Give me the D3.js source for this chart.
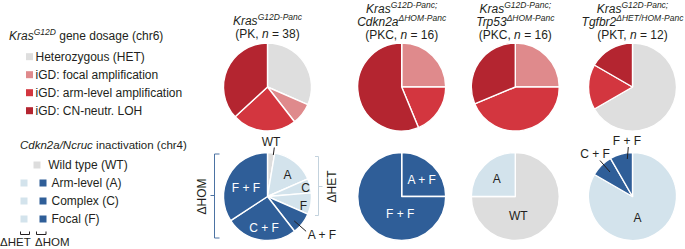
<!DOCTYPE html>
<html><head><meta charset="utf-8">
<script src="https://cdn.jsdelivr.net/npm/d3@7"></script>
<style>
html,body{margin:0;padding:0;background:#fff;}
svg{display:block;font-family:"Liberation Sans",Arial,Helvetica,sans-serif;}
</style></head>
<body><svg id="chart" width="685" height="249"></svg>
<script>
// ---------- DATA ----------
const cohorts = ["PK", "PKC_Cdkn2a", "PKC_Trp53", "PKT"];
const cohortN = [38, 16, 16, 12];
const cohortTitles = [
  [["Kras", "G12D-Panc"]],
  [["Kras", "G12D-Panc;"], ["Cdkn2a", "ΔHOM-Panc"]],
  [["Kras", "G12D-Panc;"], ["Trp53", "ΔHOM-Panc"]],
  [["Kras", "G12D-Panc;"], ["Tgfbr2", "ΔHET/HOM-Panc"]]
];
const cohortAbbr = ["PK", "PKC", "PKC", "PKT"];

const krasKeys = ["HET", "focal", "arm", "LOH"];
const krasLabels = ["Heterozygous (HET)", "iGD: focal amplification", "iGD: arm-level amplification", "iGD: CN-neutr. LOH"];
const krasPK        = [12, 3, 9, 14];
const krasPKCcdkn2a = [0, 4, 3, 9];
const krasPKCtrp53  = [0, 4, 7, 5];
const krasPKT       = [8, 0, 2, 2];

const cdknKeys = ["WT", "A", "C", "F", "A + F", "C + F", "F + F"];
const cdknGroup = ["WT", "HET", "HET", "HET", "HOM", "HOM", "HOM"];
const cdknPK        = [1, 6, 2, 3, 3, 10, 13];
const cdknPKCcdkn2a = [0, 0, 0, 0, 4, 0, 12];
const cdknPKCtrp53  = [12, 4, 0, 0, 0, 0, 0];
const cdknPKT       = [0, 10, 0, 0, 0, 1, 1];

const cdknLegendLabels = ["Arm-level (A)", "Complex (C)", "Focal (F)"];

// ---------- STYLE ----------
const krasColors = {HET: "#dedede", focal: "#df8a8c", arm: "#d3363f", LOH: "#b42530"};
const cdknColors = {WT: "#dddddd", HET: "#d3e3ec", HOM: "#2f5e98"};
const textColor = "#231f20";
const font = 12;

const svg = d3.select("#chart");
const R = 44;
const centerX = {PK: 267.5, PKC_Cdkn2a: 401.7, PKC_Trp53: 515.3, PKT: 632.5};
const topY = 87, botY = 196.5;

const pie = d3.pie().sort(null).value(d => d.v);
const arc = d3.arc().innerRadius(0).outerRadius(R);

const krasSets = [krasPK, krasPKCcdkn2a, krasPKCtrp53, krasPKT];
const cdknSets = [cdknPK, cdknPKCcdkn2a, cdknPKCtrp53, cdknPKT];

cohorts.forEach((c, i) => {
  const cx = centerX[c];
  const kd = krasKeys.map((k, j) => ({k, v: krasSets[i][j]}));
  const gt = svg.append("g").attr("transform", `translate(${cx},${topY})`);
  gt.selectAll("path").data(pie(kd).filter(d => d.data.v > 0)).join("path")
    .attr("d", arc).attr("fill", d => krasColors[d.data.k])
    .attr("stroke", "#fff").attr("stroke-width", 1.4).attr("stroke-linejoin", "round");
  const cd = cdknKeys.map((k, j) => ({k, g: cdknGroup[j], v: cdknSets[i][j]}));
  const gb = svg.append("g").attr("transform", `translate(${cx},${botY})`);
  gb.selectAll("path").data(pie(cd).filter(d => d.data.v > 0)).join("path")
    .attr("d", arc).attr("fill", d => cdknColors[d.data.g])
    .attr("stroke", "#fff").attr("stroke-width", 1.4).attr("stroke-linejoin", "round");

  const lines = cohortTitles[i];
  const nLines = lines.length + 1;
  const baseStart = nLines === 2 ? 25 : 12.5;
  lines.forEach((ln, li) => {
    const t = svg.append("text").attr("x", cx).attr("y", baseStart + li * 13)
      .attr("text-anchor", "middle").attr("font-size", font).attr("fill", textColor);
    t.append("tspan").attr("font-style", "italic").text(ln[0]);
    t.append("tspan").attr("font-style", "italic").attr("font-size", 8.5).attr("dy", -5).text(ln[1]);
  });
  const t2 = svg.append("text").attr("x", cx).attr("y", baseStart + lines.length * 13)
    .attr("text-anchor", "middle").attr("font-size", font).attr("fill", textColor);
  t2.append("tspan").text(`(${cohortAbbr[i]}, `);
  t2.append("tspan").attr("font-style", "italic").text("n");
  t2.append("tspan").text(` = ${cohortN[i]})`);
});

// ---------- bottom pie labels (annotation offsets relative to pie centre) ----------
const botLabels = [
  {c: "PK", t: "WT", dx: 3.5, dy: -51, col: textColor},
  {c: "PK", t: "A", dx: 20, dy: -18, col: textColor},
  {c: "PK", t: "C", dx: 38, dy: -5, col: textColor},
  {c: "PK", t: "F", dx: 36, dy: 13, col: textColor},
  {c: "PK", t: "F + F", dx: -21.5, dy: -4.5, col: "#fff"},
  {c: "PK", t: "C + F", dx: -3.5, dy: 35.5, col: "#fff"},
  {c: "PK", t: "A + F", dx: 54.5, dy: 42.5, col: textColor},
  {c: "PKC_Cdkn2a", t: "A + F", dx: 20, dy: -13, col: "#fff"},
  {c: "PKC_Cdkn2a", t: "F + F", dx: -1.5, dy: 21.5, col: "#fff"},
  {c: "PKC_Trp53", t: "A", dx: -18.5, dy: -14, col: textColor},
  {c: "PKC_Trp53", t: "WT", dx: 3, dy: 23, col: textColor},
  {c: "PKT", t: "A", dx: 5, dy: 25, col: textColor},
  {c: "PKT", t: "C + F", dx: -37.5, dy: -38.5, col: textColor},
  {c: "PKT", t: "F + F", dx: -5.5, dy: -52, col: textColor}
];
botLabels.forEach(l => {
  svg.append("text").attr("x", centerX[l.c] + l.dx).attr("y", botY + l.dy)
    .attr("text-anchor", "middle").attr("font-size", font).attr("fill", l.col).text(l.t);
});
const leaders = [
  {c: "PK", x1: 6.8, y1: -49, x2: 5.8, y2: -41.5},
  {c: "PK", x1: 26.7, y1: 24.4, x2: 38.6, y2: 34.8},
  {c: "PKT", x1: -32.5, y1: -36, x2: -22.5, y2: -24.5},
  {c: "PKT", x1: -4.2, y1: -49.5, x2: -5.2, y2: -37.5}
];
leaders.forEach(l => {
  svg.append("line").attr("x1", centerX[l.c] + l.x1).attr("y1", botY + l.y1)
    .attr("x2", centerX[l.c] + l.x2).attr("y2", botY + l.y2)
    .attr("stroke", textColor).attr("stroke-width", 1);
});

// brackets around PK bottom pie
const bx = centerX.PK;
svg.append("path")
  .attr("d", `M${bx - 48},${botY - 42.5} H${bx - 53} V${botY + 41.5} H${bx - 48} M${bx - 53},${botY - 1} H${bx - 57}`)
  .attr("fill", "none").attr("stroke", "#4c73a3").attr("stroke-width", 1);
svg.append("text").attr("transform", `translate(${bx - 62},${botY}) rotate(-90)`)
  .attr("text-anchor", "middle").attr("font-size", font).attr("fill", textColor).text("ΔHOM");
svg.append("path")
  .attr("d", `M${bx + 47.5},${botY - 40} H${bx + 51} V${botY + 19} H${bx + 47.5} M${bx + 51},${botY - 10} H${bx + 55}`)
  .attr("fill", "none").attr("stroke", "#c3d2dd").attr("stroke-width", 1);
svg.append("text").attr("transform", `translate(${bx + 68.5},${botY - 10}) rotate(-90)`)
  .attr("text-anchor", "middle").attr("font-size", font).attr("fill", textColor).text("ΔHET");

// ---------- LEGEND 1 ----------
const lg1 = svg.append("g");
const l1t = lg1.append("text").attr("x", 9).attr("y", 39.5).attr("font-size", font).attr("fill", textColor);
l1t.append("tspan").attr("font-style", "italic").text("Kras");
l1t.append("tspan").attr("font-style", "italic").attr("font-size", 8.5).attr("dy", -5).text("G12D");
l1t.append("tspan").attr("dy", 5).text(" gene dosage (chr6)");
krasKeys.forEach((k, j) => {
  const cy = 56.7 + j * 18;
  lg1.append("rect").attr("x", 26).attr("y", cy - 3.5).attr("width", 7).attr("height", 7).attr("fill", krasColors[k]);
  lg1.append("text").attr("x", 35.5).attr("y", cy + 4.3).attr("font-size", font).attr("fill", textColor).text(krasLabels[j]);
});

// ---------- LEGEND 2 ----------
const lg2 = svg.append("g");
const l2t = lg2.append("text").attr("x", 20).attr("y", 149).attr("font-size", 11.5).attr("fill", textColor);
l2t.append("tspan").attr("font-style", "italic").text("Cdkn2a/Ncruc");
l2t.append("tspan").text(" inactivation (chr4)");
lg2.append("rect").attr("x", 33.5).attr("y", 165 - 3.5).attr("width", 7).attr("height", 7).attr("fill", cdknColors.WT);
lg2.append("text").attr("x", 48.3).attr("y", 165 + 4.3).attr("font-size", font).attr("fill", textColor).text("Wild type (WT)");
cdknLegendLabels.forEach((lab, j) => {
  const cy = 183 + j * 18;
  lg2.append("rect").attr("x", 20.5).attr("y", cy - 3.5).attr("width", 7).attr("height", 7).attr("fill", cdknColors.HET);
  lg2.append("rect").attr("x", 39.5).attr("y", cy - 3.5).attr("width", 7).attr("height", 7).attr("fill", cdknColors.HOM);
  lg2.append("text").attr("x", 51.5).attr("y", cy + 4.3).attr("font-size", font).attr("fill", textColor).text(lab);
});
lg2.append("path").attr("d", "M20.5,231.5 V234.5 H29.5 V231.5 M36.5,231.5 V234.5 H46 V231.5")
  .attr("fill", "none").attr("stroke", textColor).attr("stroke-width", 1);
lg2.append("text").attr("x", 0).attr("y", 246).attr("font-size", 11.5).attr("fill", textColor).text("ΔHET");
lg2.append("text").attr("x", 35).attr("y", 246).attr("font-size", 11.5).attr("fill", textColor).text("ΔHOM");
</script></body></html>
